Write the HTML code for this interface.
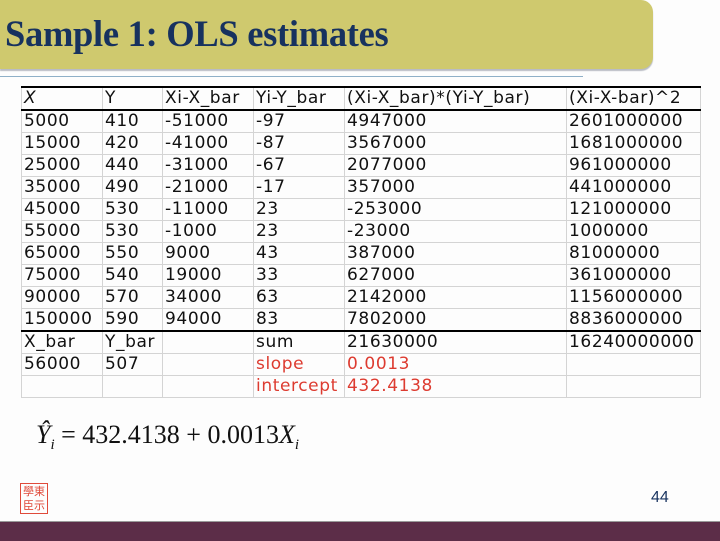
<!DOCTYPE html>
<html><head><meta charset="utf-8"><style>
body{margin:0;width:720px;height:540px;background:#fdfdfd;position:relative;overflow:hidden;font-family:"DejaVu Sans","Liberation Sans",sans-serif}
.band{position:absolute;left:0;top:0;width:653px;height:69px;background:#cfc96e;border-radius:0 12px 12px 0;box-shadow:0 2px 1px #b9bcc4}
.title{position:absolute;left:5px;top:14px;font-family:"Liberation Serif",serif;font-weight:bold;font-size:36.5px;line-height:40px;color:#17325f;letter-spacing:-0.3px}
.bl{position:absolute;left:0;top:76px;width:583px;height:1px;background:#8fb0c8}
table{position:absolute;left:21px;top:86px;border-collapse:collapse;font-size:17px;letter-spacing:0.6px;color:#111;table-layout:fixed;width:679px}
td{height:21px;padding:0 0 0 2px;border:1px solid #d4d4d4;line-height:21px;white-space:nowrap;overflow:visible;vertical-align:middle}
tr.top td{border-top:2px solid #000}
tr.hb td{border-bottom:2px solid #000}
tr.sb td{border-top:2px solid #000}
.r{color:#dd3b30}
.eq{position:absolute;left:36px;top:420px;font-family:"Liberation Serif",serif;font-size:26px;color:#111}
.num{position:absolute;left:651px;top:489px;font-size:16px;color:#17325f;font-family:"Liberation Sans",sans-serif}
.seal{position:absolute;left:20px;top:483px;width:26px;height:29px;border:1px solid #e04a3a;color:#e04a3a;font-size:11px;line-height:14px;text-align:center;font-family:"Noto Sans CJK SC",sans-serif}
.foot{position:absolute;left:0;top:521px;width:720px;height:19px;background:#5c2d48;border-top:1px solid #9a9a9a}
</style></head><body>
<div class="band"></div>
<div class="title">Sample 1: OLS estimates</div>
<div class="bl"></div>
<table>
<colgroup><col style="width:81px"><col style="width:60px"><col style="width:91px"><col style="width:91px"><col style="width:222px"><col style="width:134px"></colgroup>
<tr class="top hb"><td><i>X</i></td><td>Y</td><td>Xi-X_bar</td><td>Yi-Y_bar</td><td>(Xi-X_bar)*(Yi-Y_bar)</td><td>(Xi-X-bar)^2</td></tr>
<tr><td>5000</td><td>410</td><td>-51000</td><td>-97</td><td>4947000</td><td>2601000000</td></tr>
<tr><td>15000</td><td>420</td><td>-41000</td><td>-87</td><td>3567000</td><td>1681000000</td></tr>
<tr><td>25000</td><td>440</td><td>-31000</td><td>-67</td><td>2077000</td><td>961000000</td></tr>
<tr><td>35000</td><td>490</td><td>-21000</td><td>-17</td><td>357000</td><td>441000000</td></tr>
<tr><td>45000</td><td>530</td><td>-11000</td><td>23</td><td>-253000</td><td>121000000</td></tr>
<tr><td>55000</td><td>530</td><td>-1000</td><td>23</td><td>-23000</td><td>1000000</td></tr>
<tr><td>65000</td><td>550</td><td>9000</td><td>43</td><td>387000</td><td>81000000</td></tr>
<tr><td>75000</td><td>540</td><td>19000</td><td>33</td><td>627000</td><td>361000000</td></tr>
<tr><td>90000</td><td>570</td><td>34000</td><td>63</td><td>2142000</td><td>1156000000</td></tr>
<tr><td>150000</td><td>590</td><td>94000</td><td>83</td><td>7802000</td><td>8836000000</td></tr>
<tr class="sb"><td>X_bar</td><td>Y_bar</td><td></td><td>sum</td><td>21630000</td><td>16240000000</td></tr>
<tr><td>56000</td><td>507</td><td></td><td class="r">slope</td><td class="r">0.0013</td><td></td></tr>
<tr><td></td><td></td><td></td><td class="r">intercept</td><td class="r">432.4138</td><td></td></tr>
</table>
<div class="eq"><i>Ŷ<sub style="font-size:15px">i</sub></i> = 432.4138 + 0.0013<i>X<sub style="font-size:15px">i</sub></i></div>
<div class="seal">學東<br>臣示</div>
<div class="num">44</div>
<div class="foot"></div>
</body></html>
